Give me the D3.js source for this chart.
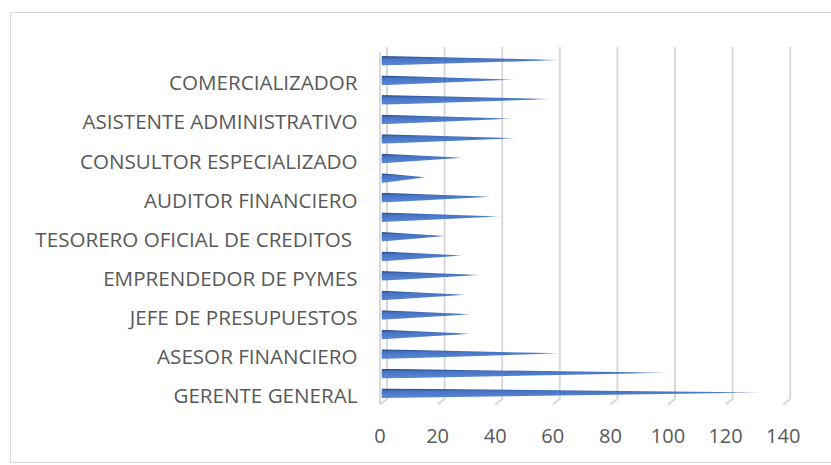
<!DOCTYPE html>
<html><head><meta charset="utf-8">
<script src="https://cdn.jsdelivr.net/npm/d3@7"></script>
<style>html,body{margin:0;padding:0;background:#fff;} svg{display:block;}</style>
</head><body>
<script>
// Categories bottom to top (Excel shows every 2nd label; unshown names unknown)
const categories = ["GERENTE GENERAL","","ASESOR FINANCIERO","","JEFE DE PRESUPUESTOS","","EMPRENDEDOR DE PYMES","","TESORERO OFICIAL DE CREDITOS ","","AUDITOR FINANCIERO","","CONSULTOR ESPECIALIZADO","","ASISTENTE ADMINISTRATIVO","","COMERCIALIZADOR",""];
const values = [131, 98, 60, 29, 29, 27, 32, 26, 20, 39, 36, 13, 26, 45, 43, 57, 44, 60];
const tickValues = [0, 20, 40, 60, 80, 100, 120, 140];

const W = 831, H = 465;
const svg = d3.select("body").append("svg").attr("width", W).attr("height", H);
svg.append("rect").attr("x",10.5).attr("y",12.5).attr("width",830).attr("height",450)
  .attr("fill","#fff").attr("stroke","#d9d9d9").attr("stroke-width",1);

// back wall scale and depth offset (3D)
const xBack = d3.scaleLinear().domain([0,140]).range([387, 790.2]);
const depthX = -7, depthY = 5.5;
const wallTop = 47, wallBottom = 399;
const y = d3.scaleBand().domain(d3.range(categories.length)).range([403, 51]);

const defs = svg.append("defs");
const g = defs.append("linearGradient").attr("id","cone").attr("x1",0).attr("y1",0).attr("x2",0).attr("y2",1);
[["0%","#264884"],["12%","#335a9f"],["28%","#4673c3"],["100%","#5c88d6"]].forEach(s=>g.append("stop").attr("offset",s[0]).attr("stop-color",s[1]));
const gh = defs.append("linearGradient").attr("id","fade").attr("x1",0).attr("y1",0).attr("x2",1).attr("y2",0);
[["0%","#fff",1],["88%","#fff",1],["100%","#fff",0.4]].forEach(s=>gh.append("stop").attr("offset",s[0]).attr("stop-color",s[1]).attr("stop-opacity",s[2]));
const mask = defs.append("mask").attr("id","fm").attr("maskContentUnits","objectBoundingBox");
mask.append("rect").attr("x",0).attr("y",0).attr("width",1).attr("height",1).attr("fill","url(#fade)");

// gridlines: back wall verticals + floor diagonals
const grid = svg.append("g").attr("stroke","#d9d9d9").attr("stroke-width",2).attr("fill","none");
tickValues.forEach(t => {
  const gx = xBack(t);
  grid.append("path").attr("d", `M${gx},${wallTop} L${gx},${wallBottom} L${gx+depthX},${wallBottom+depthY}`);
});
// left side wall front edge
grid.append("path").attr("d", `M${xBack(0)+depthX},${wallTop+5} L${xBack(0)+depthX},${wallBottom+depthY}`);

// cones
const bars = svg.append("g");
values.forEach((v,i) => {
  const cy = y(i) + y.bandwidth()/2;
  const x0 = xBack(0) + depthX/2 - 1.5;
  const tip = xBack(v) + 1;
  const h = 4.8;
  bars.append("path")
    .attr("d", `M${x0},${cy-h} L${tip},${cy-0.8} L${x0},${cy+h} Q${x0-1.2},${cy} ${x0},${cy-h} Z`)
    .attr("fill","url(#cone)").attr("mask","url(#fm)");
});

// category labels
svg.append("g").selectAll("text").data(categories.map((c,i)=>({c,i})).filter(d=>d.c!==""))
  .join("text")
  .attr("x", 357.5)
  .attr("y", d => y(d.i) + y.bandwidth()/2 + 10)
  .attr("text-anchor","end")
  .attr("font-family","'Open Sans', sans-serif")
  .attr("font-size",20.6)
  .attr("fill","#595959")
  .style("white-space","pre")
  .text(d=>d.c);

// value tick labels
svg.append("g").selectAll("text").data(tickValues).join("text")
  .attr("x", d => xBack(d) + depthX)
  .attr("y", 443)
  .attr("text-anchor","middle")
  .attr("font-family","'Open Sans', sans-serif")
  .attr("font-size",20)
  .attr("fill","#595959")
  .text(d=>d);
</script>
</body></html>
